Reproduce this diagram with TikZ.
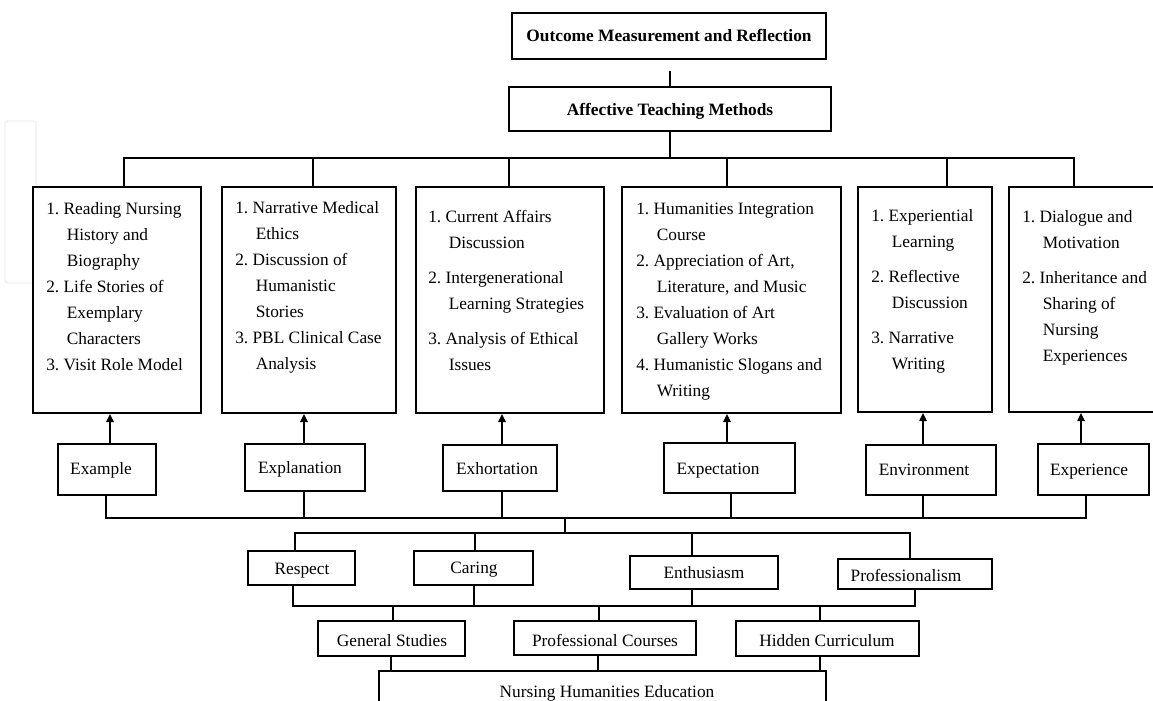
\documentclass[tikz,border=0pt]{standalone}
\usepackage{fontspec}
\setmainfont{Liberation Serif}
\usetikzlibrary{arrows.meta,calc,fit}
\newcommand{\hind}{\hspace*{15.4pt}}
\frenchspacing
\begin{document}
\begin{tikzpicture}[x=0.75pt,y=-0.75pt,
 box/.style={draw,line width=1.6pt,inner sep=0pt,fill=white},
 ln/.style={line width=1.25pt},
 arr/.style={line width=1.25pt,-{Triangle[length=6pt,width=5.5pt]}},
 txt/.style={inner sep=0pt,font=\fontsize{13}{15.6}\selectfont,text height=8.6pt,text depth=0pt},
 hdr/.style={inner sep=0pt,font=\fontsize{13}{15.6}\selectfont\bfseries,text height=8.6pt,text depth=0pt},
 list/.style={inner sep=0pt,anchor=base west,font=\fontsize{13}{19.5}\selectfont}]
\path[use as bounding box] (0,0) rectangle (1153,700);
\clip (0,0) rectangle (1153,700);
\fill[white] (0,0) rectangle (1153,700);
\draw[gray!12,line width=1pt,rounded corners=2pt,fill=white] (5,121) rectangle (36,283);

% top boxes
\node[box,fit={(512,13)(826,59)}] (top) {};
\node[hdr] (topT) at (669,36) {Outcome Measurement and Reflection};
\node[box,fit={(509,87)(831,131)}] (atm) {};
\node[hdr] (atmT) at (670,110) {Affective Teaching Methods};

% method boxes
\node[box,fit={(33,187)(201,413)}] (b1) {};
\node[box,fit={(222,187)(396,413)}] (b2) {};
\node[box,fit={(416,187)(604,413)}] (b3) {};
\node[box,fit={(622,187)(841,413)}] (b4) {};
\node[box,fit={(858,187)(992,412)}] (b5) {};
\node[box,fit={(1009,187)(1170,412)}] (b6) {};

\node[list] (t1) at (46,214) {\begin{tabular}[t]{@{}l@{}}1. Reading Nursing\\\hind History and\\\hind Biography\\2. Life Stories of\\\hind Exemplary\\\hind Characters\\3. Visit Role Model\end{tabular}};
\node[list] (t2) at (235,213) {\begin{tabular}[t]{@{}l@{}}1. Narrative Medical\\\hind Ethics\\2. Discussion of\\\hind Humanistic\\\hind Stories\\3. PBL Clinical Case\\\hind Analysis\end{tabular}};
\node[list] (t3) at (428,222.5) {\begin{tabular}[t]{@{}l@{}}1. Current Affairs\\\hind Discussion\\[6.75pt]2. Intergenerational\\\hind Learning Strategies\\[6.75pt]3. Analysis of Ethical\\\hind Issues\end{tabular}};
\node[list] (t4) at (636,214) {\begin{tabular}[t]{@{}l@{}}1. Humanities Integration\\\hind Course\\2. Appreciation of Art,\\\hind Literature, and Music\\3. Evaluation of Art\\\hind Gallery Works\\4. Humanistic Slogans and\\\hind Writing\end{tabular}};
\node[list] (t5) at (871,221.5) {\begin{tabular}[t]{@{}l@{}}1. Experiential\\\hind Learning\\[6.75pt]2. Reflective\\\hind Discussion\\[6.75pt]3. Narrative\\\hind Writing\end{tabular}};
\node[list] (t6) at (1022,222.5) {\begin{tabular}[t]{@{}l@{}}1. Dialogue and\\\hind Motivation\\[6.75pt]2. Inheritance and\\\hind Sharing of\\\hind Nursing\\\hind Experiences\end{tabular}};

% E boxes
\node[box,fit={(58,444)(156,495)}] (ex) {};
\node[txt] (exT) at (101,469) {Example};
\node[box,fit={(245,444)(365,491)}] (expl) {};
\node[txt] (explT) at (300,468) {Explanation};
\node[box,fit={(443,445)(557,491)}] (exh) {};
\node[txt] (exhT) at (497,469) {Exhortation};
\node[box,fit={(664,443)(795,493)}] (expe) {};
\node[txt] (expeT) at (718,469) {Expectation};
\node[box,fit={(866,445)(996,495)}] (env) {};
\node[txt] (envT) at (924,470) {Environment};
\node[box,fit={(1038,444)(1149,495)}] (expr) {};
\node[txt] (exprT) at (1089,470) {Experience};

% values
\node[box,fit={(248,551)(355,585)}] (resp) {};
\node[txt] (respT) at (302,569) {Respect};
\node[box,fit={(414,551)(533,585)}] (car) {};
\node[txt] (carT) at (474,568) {Caring};
\node[box,fit={(630,556)(778,589)}] (ent) {};
\node[txt] (entT) at (704,573) {Enthusiasm};
\node[box,fit={(838,559)(992,589)}] (prof) {};
\node[txt] (profT) at (906,576) {Professionalism};

% curricula
\node[box,fit={(318,621)(465,656)}] (gen) {};
\node[txt] (genT) at (392,641) {General Studies};
\node[box,fit={(514,621)(696,655)}] (pc) {};
\node[txt] (pcT) at (605,641) {Professional Courses};
\node[box,fit={(736,621)(919,656)}] (hid) {};
\node[txt] (hidT) at (827,641) {Hidden Curriculum};
\node[box,fit={(379,671)(826,740)}] (nhe) {};
\node[txt] (nheT) at (607,692) {Nursing Humanities Education};

% top connectors
\coordinate (g1) at (670,71);
\draw[ln] (g1) -- (g1 |- atm.north);
\coordinate (busL) at (124,158);
\coordinate (busR) at (1074,158);
\draw[ln] (atm.south) -- (atm.south |- busL);
\draw[ln] (busL |- b1.north) -- (busL) -- (busR) -- (busR |- b6.north);
\coordinate (d2) at (313,158);
\coordinate (d3) at (509,158);
\coordinate (d4) at (727,158);
\coordinate (d5) at (947,158);
\draw[ln] (d2) -- (d2 |- b2.north);
\draw[ln] (d3) -- (d3 |- b3.north);
\draw[ln] (d4) -- (d4 |- b4.north);
\draw[ln] (d5) -- (d5 |- b5.north);

% arrows
\coordinate (a1) at ($(ex.north)+(3,0)$);
\coordinate (a2) at ($(expl.north)+(-1,0)$);
\coordinate (a3) at ($(exh.north)+(2,0)$);
\coordinate (a4) at ($(expe.north)+(-2.5,0)$);
\coordinate (a5) at ($(env.north)+(-8,0)$);
\coordinate (a6) at ($(expr.north)+(-12.5,0)$);
\draw[arr] (a1) -- (a1 |- b1.south);
\draw[arr] (a2) -- (a2 |- b2.south);
\draw[arr] (a3) -- (a3 |- b3.south);
\draw[arr] (a4) -- (a4 |- b4.south);
\draw[arr] (a5) -- (a5 |- b5.south);
\draw[arr] (a6) -- (a6 |- b6.south);

% E bus
\coordinate (q1) at ($(ex.south)+(-1,0)$);
\coordinate (bus2R) at (1086,518);
\draw[ln] (q1) |- (bus2R) -- (bus2R |- expr.south);
\coordinate (q2) at ($(expl.south)+(-1,0)$);
\coordinate (q3) at ($(exh.south)+(2,0)$);
\coordinate (q4) at ($(expe.south)+(1.5,0)$);
\coordinate (q5) at ($(env.south)+(-8,0)$);
\draw[ln] (q2) -- (q2 |- bus2R);
\draw[ln] (q3) -- (q3 |- bus2R);
\draw[ln] (q4) -- (q4 |- bus2R);
\draw[ln] (q5) -- (q5 |- bus2R);

% junction to values
\coordinate (j1) at (565,518);
\coordinate (c3L) at (295,533);
\coordinate (c3R) at (910,533);
\draw[ln] (j1) -- (j1 |- c3L);
\draw[ln] (c3L |- resp.north) -- (c3L) -- (c3R) -- (c3R |- prof.north);
\coordinate (v2) at ($(car.north)+(1.5,0)$);
\coordinate (v3) at ($(ent.north)+(-12,0)$);
\draw[ln] (v2) -- (v2 |- c3L);
\draw[ln] (v3) -- (v3 |- c3L);

% values to curricula
\coordinate (c4L) at (293,606);
\coordinate (c4R) at (915,606);
\draw[ln] (c4L |- resp.south) -- (c4L) -- (c4R) -- (c4R |- prof.south);
\coordinate (w2) at ($(car.south)+(0.5,0)$);
\coordinate (w3) at ($(ent.south)+(-12,0)$);
\draw[ln] (w2) -- (w2 |- c4L);
\draw[ln] (w3) -- (w3 |- c4L);
\coordinate (r1) at ($(gen.north)+(1.5,0)$);
\coordinate (r2) at ($(pc.north)+(-6,0)$);
\coordinate (r3) at ($(hid.north)+(-7.5,0)$);
\draw[ln] (r1 |- c4L) -- (r1);
\draw[ln] (r2 |- c4L) -- (r2);
\draw[ln] (r3 |- c4L) -- (r3);

% curricula to base
\coordinate (s1) at ($(gen.south)+(-0.5,0)$);
\coordinate (s2) at ($(pc.south)+(-7,0)$);
\coordinate (s3) at ($(hid.south)+(-7.5,0)$);
\draw[ln] (s1) -- (s1 |- nhe.north);
\draw[ln] (s2) -- (s2 |- nhe.north);
\draw[ln] (s3) -- (s3 |- nhe.north);
\end{tikzpicture}
\end{document}
